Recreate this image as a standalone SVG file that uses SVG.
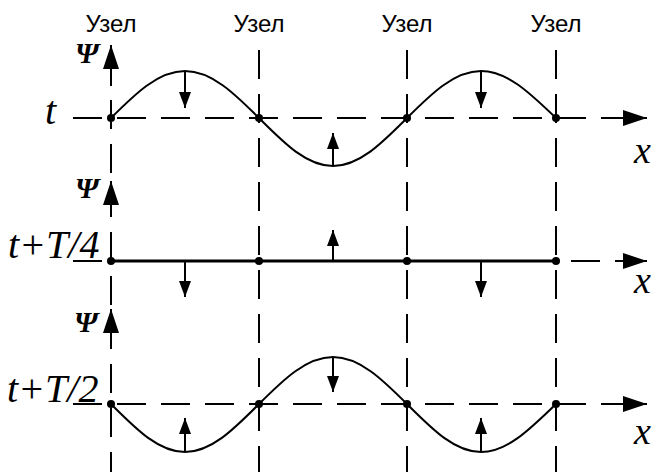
<svg xmlns="http://www.w3.org/2000/svg" width="653" height="472" viewBox="0 0 653 472">
<style>
.dash{stroke:#000;stroke-width:2;fill:none;stroke-dasharray:29 15}
.wave{stroke:#000;stroke-width:2;fill:none}
.solid{stroke:#000;stroke-width:3;fill:none}
.arr{stroke:#000;stroke-width:2;fill:none;marker-end:url(#sh)}
.ax{stroke:#000;stroke-width:2;fill:none;marker-end:url(#bh)}
.node{fill:#000}
.lbl{font-family:"Liberation Sans",Arial,sans-serif;font-size:24px;text-anchor:middle}
.it{font-family:"Liberation Serif","Times New Roman",serif;font-style:italic}
.psi{font-family:"Liberation Serif","Times New Roman",serif;font-style:italic;font-weight:bold;font-size:30px;text-anchor:middle}
</style>
<defs>
<marker id="sh" markerUnits="userSpaceOnUse" markerWidth="18" markerHeight="14" refX="16" refY="6" orient="auto" viewBox="0 0 18 12"><path d="M0,0 L16,6 L0,12 Z" fill="#000"/></marker>
<marker id="bh" markerUnits="userSpaceOnUse" markerWidth="26" markerHeight="18" refX="24" refY="8" orient="auto" viewBox="0 0 26 16"><path d="M0,0 L24,8 L0,16 Z" fill="#000"/></marker>
</defs>
<g id="labels">
<text class="lbl" x="111" y="32">Узел</text>
<text class="lbl" x="259" y="32">Узел</text>
<text class="lbl" x="407" y="32">Узел</text>
<text class="lbl" x="556" y="32">Узел</text>
<text class="psi" x="87" y="63">Ψ</text>
<text class="psi" x="87" y="198">Ψ</text>
<text class="psi" x="86" y="332">Ψ</text>
<text class="it" x="45" y="124" font-size="40">t</text>
<text class="it" x="8" y="258" font-size="40">t+T/4</text>
<text class="it" x="7" y="402" font-size="40">t+T/2</text>
<text class="it" x="634" y="163" font-size="38">x</text>
<text class="it" x="634" y="293" font-size="38">x</text>
<text class="it" x="634" y="444" font-size="38">x</text>
</g>
<g id="connectors">
<line class="dash" x1="111" y1="100" x2="111" y2="472"/>
<line class="dash" x1="259" y1="50" x2="259" y2="472"/>
<line class="dash" x1="407" y1="50" x2="407" y2="472"/>
<line class="dash" x1="556" y1="50" x2="556" y2="472"/>
<line class="ax" x1="111" y1="86" x2="111" y2="45"/>
<line class="ax" x1="111" y1="216" x2="111" y2="181"/>
<line class="ax" x1="111" y1="346" x2="111" y2="309"/>
<path class="dash" d="M73,118 H618" stroke-dasharray="30 15.5"/>
<line class="ax" x1="615" y1="118" x2="647" y2="118"/>
<path class="dash" d="M73,261 H103"/>
<path class="dash" d="M571,261 H618" stroke-dasharray="29 17"/>
<line class="ax" x1="615" y1="261" x2="647" y2="261"/>
<path class="dash" d="M73,404 H618" stroke-dasharray="30 15.5"/>
<line class="ax" x1="615" y1="404" x2="647" y2="404"/>
<path class="solid" d="M111,261 H556"/>
<path class="wave" d="M111,118 C135.13,93.92 158.22,71 185,71 C211.78,71 234.87,93.92 259,118 C283.13,142.08 306.22,166 333,166 C359.78,166 382.87,142.08 407,118 C431.13,93.92 454.22,71 481,71 C507.78,71 530.87,93.92 556,118"/>
<path class="wave" d="M111,404 C135.13,428.08 158.22,452 185,452 C211.78,452 234.87,428.08 259,404 C283.13,379.92 306.22,357 333,357 C359.78,357 382.87,379.92 407,404 C431.13,428.08 454.22,452 481,452 C507.78,452 530.87,428.08 556,404"/>
<line class="arr" x1="185" y1="71" x2="185" y2="108"/>
<line class="arr" x1="333" y1="166" x2="333" y2="133"/>
<line class="arr" x1="481" y1="71" x2="481" y2="108"/>
<line class="arr" x1="185" y1="261" x2="185" y2="297"/>
<line class="arr" x1="333" y1="261" x2="333" y2="230"/>
<line class="arr" x1="481" y1="261" x2="481" y2="297"/>
<line class="arr" x1="185" y1="452" x2="185" y2="418"/>
<line class="arr" x1="333" y1="357" x2="333" y2="392"/>
<line class="arr" x1="481" y1="452" x2="481" y2="418"/>
</g>
<g id="nodes">
<circle id="n1a" class="node" cx="111" cy="118" r="4"/>
<circle id="n1b" class="node" cx="259" cy="118" r="4"/>
<circle id="n1c" class="node" cx="407" cy="118" r="4"/>
<circle id="n1d" class="node" cx="556" cy="118" r="4"/>
<circle id="n2a" class="node" cx="111" cy="261" r="4"/>
<circle id="n2b" class="node" cx="259" cy="261" r="4"/>
<circle id="n2c" class="node" cx="407" cy="261" r="4"/>
<circle id="n2d" class="node" cx="556" cy="261" r="4"/>
<circle id="n3a" class="node" cx="111" cy="404" r="4"/>
<circle id="n3b" class="node" cx="259" cy="404" r="4"/>
<circle id="n3c" class="node" cx="407" cy="404" r="4"/>
<circle id="n3d" class="node" cx="556" cy="404" r="4"/>
</g>
</svg>
